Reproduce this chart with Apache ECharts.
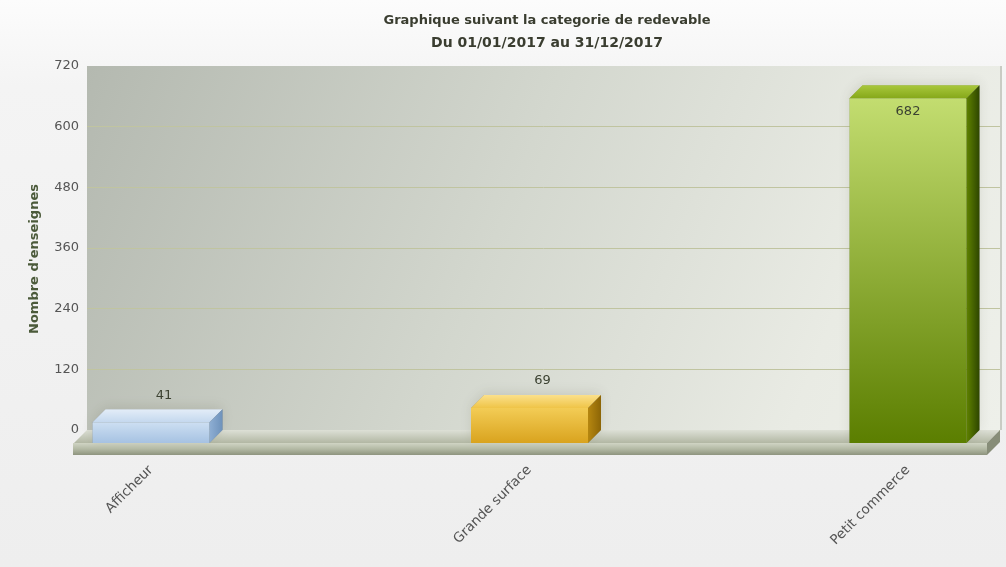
<!DOCTYPE html>
<html>
<head>
<meta charset="utf-8">
<script src="https://cdn.jsdelivr.net/npm/echarts@6/dist/echarts.min.js"></script>
<style>
html,body{margin:0;padding:0;}
#chart{width:1006px;height:567px;}
</style>
</head>
<body>
<div id="chart"></div>
<script>
const categories = ['Afficheur', 'Grande surface', 'Petit commerce'];
const values = [41, 69, 682];
const yMin = 0, yMax = 720, yStep = 120;
const titleLine1 = 'Graphique suivant la categorie de redevable';
const titleLine2 = 'Du 01/01/2017 au 31/12/2017';
const yAxisName = "Nombre d'enseignes";

const barStyles = [
  {front: ['#cddff2', '#a6c2e2'], top: ['#e3edf8', '#c4d8ee'], side: ['#8eaed3', '#6e92bb']},
  {front: ['#f3cc55', '#d9a31e'], top: ['#fbe08a', '#efc447'], side: ['#b68710', '#8c6506']},
  {front: ['#c3dd70', '#5b7e00'], top: ['#a9c83c', '#86a81a'], side: ['#5f8200', '#2e4600']}
];
const FONT = "'DejaVu Sans', Verdana, sans-serif";
const DX = 13, DY = 13, HALF = 58.5;

const chart = echarts.init(document.getElementById('chart'));
function lg(c0, c1, hor) {
  return new echarts.graphic.LinearGradient(0, 0, hor ? 1 : 0, hor ? 0 : 1, [{offset: 0, color: c0}, {offset: 1, color: c1}]);
}

const option = {
  animation: false,
  backgroundColor: new echarts.graphic.LinearGradient(0, 0, 0, 1, [
    {offset: 0, color: '#fcfcfc'}, {offset: 0.15, color: '#f4f4f4'}, {offset: 1, color: '#eeeeee'}
  ]),
  title: {
    text: '{a|' + titleLine1 + '}\n{b|' + titleLine2 + '}',
    left: 542, top: 4, textAlign: 'center',
    textStyle: {
      rich: {
        a: {fontFamily: FONT, fontSize: 13, fontWeight: 'bold', color: '#3a3d30', lineHeight: 23, align: 'center'},
        b: {fontFamily: FONT, fontSize: 14, fontWeight: 'bold', color: '#3a3d30', lineHeight: 23, align: 'center'}
      }
    }
  },
  grid: [
    {left: 87, right: 6, top: 66, bottom: 137, show: true, borderWidth: 0,
     backgroundColor: new echarts.graphic.LinearGradient(0, 0, 1, 1, [
       {offset: 0, color: '#b4b9b0'}, {offset: 0.45, color: '#d3d7ce'}, {offset: 0.8, color: '#e9ebe4'}, {offset: 1, color: '#eef0ea'}
     ])},
    {left: 151, right: 98, top: 79, bottom: 124}
  ],
  xAxis: [
    {gridIndex: 0, type: 'category', data: categories, show: false},
    {gridIndex: 1, type: 'category', data: categories, boundaryGap: false,
     axisLine: {show: false}, axisTick: {show: false},
     axisLabel: {rotate: 45, margin: 25, fontFamily: FONT, fontSize: 13.5, color: '#555'}}
  ],
  yAxis: [
    {gridIndex: 0, type: 'value', min: yMin, max: yMax, interval: yStep,
     axisLine: {show: false}, axisTick: {show: false},
     axisLabel: {margin: 8, fontFamily: FONT, fontSize: 13, color: '#555'},
     splitLine: {showMaxLine: false, lineStyle: {color: '#c0c4a0', width: 1}}},
    {gridIndex: 1, type: 'value', min: yMin, max: yMax, interval: yStep, show: false, splitLine: {show: false}}
  ],
  graphic: [
    {type: 'text', z: 10, x: 35, y: 259, rotation: Math.PI / 2,
     style: {text: yAxisName, align: 'center', verticalAlign: 'middle',
             font: 'bold 13px ' + FONT, fill: '#4b5a3a'}},
    // floor top surface
    {type: 'polygon', z: 1, shape: {points: [[87, 430], [1000, 430], [987, 443], [74, 443]]},
     style: {fill: lg('#dde0d6', '#b2b7a3')}},
    // floor front face
    {type: 'rect', z: 1, shape: {x: 73, y: 443, width: 914, height: 12},
     style: {fill: new echarts.graphic.LinearGradient(0, 0, 0, 1, [
       {offset: 0, color: '#d0d4c4'}, {offset: 0.5, color: '#b3b9a4'}, {offset: 1, color: '#8e947e'}])}},
    // floor right side
    {type: 'polygon', z: 1, shape: {points: [[1000, 430], [1000, 442], [987, 455], [987, 443]]},
     style: {fill: '#878d78'}},
    // right edge line of wall
    {type: 'line', z: 1, shape: {x1: 1001, y1: 66, x2: 1001, y2: 430}, style: {stroke: '#c9ccc4', lineWidth: 2}}
  ],
  series: [{
    type: 'custom', xAxisIndex: 1, yAxisIndex: 1, z: 5,
    data: values.map((v, i) => [i, v]),
    renderItem: function (params, api) {
      const i = api.value(0), v = api.value(1);
      const p = api.coord([i, v]);
      const b = api.coord([i, 0]);
      const x0 = p[0] - HALF, x1 = p[0] + HALF, y = p[1], yb = b[1];
      const st = barStyles[i];
      const children = [
        {type: 'polygon', shape: {points: [[x0, y], [x0 + DX, y - DY], [x1 + DX, y - DY], [x1 + DX, yb - DY], [x1, yb], [x0, yb]]},
         style: {fill: 'rgba(0,0,0,0.25)', shadowBlur: 12, shadowColor: 'rgba(60,60,40,0.5)', shadowOffsetY: -3}},
        {type: 'rect', shape: {x: x0, y: y, width: x1 - x0, height: yb - y}, style: {fill: lg(st.front[0], st.front[1])}},
        {type: 'polygon', shape: {points: [[x0, y], [x0 + DX, y - DY], [x1 + DX, y - DY], [x1, y]]}, style: {fill: lg(st.top[0], st.top[1])}},
        {type: 'polygon', shape: {points: [[x1, y], [x1 + DX, y - DY], [x1 + DX, yb - DY], [x1, yb]]}, style: {fill: lg(st.side[0], st.side[1], true)}}
      ];
      const inside = (yb - y) > 60;
      children.push({
        type: 'text',
        style: {
          text: String(v), x: inside ? p[0] : p[0] + DX, y: inside ? y + 13 : y - DY - 14,
          align: 'center', verticalAlign: 'middle', font: '13px ' + FONT, fill: '#3c4232'
        }
      });
      return {type: 'group', children: children};
    }
  }]
};
chart.setOption(option);
</script>
</body>
</html>
